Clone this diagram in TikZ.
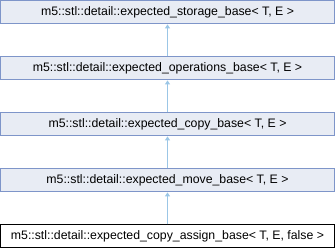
\documentclass[tikz,border=0pt]{standalone}
\usepackage{fontspec}
\setmainfont{Liberation Sans}
\usetikzlibrary{arrows.meta}
\definecolor{boxfill}{RGB}{232,236,244}
\definecolor{boxline}{RGB}{126,149,201}
\definecolor{edgeblue}{RGB}{155,198,230}
\tikzset{
  classbox/.style={draw=boxline, fill=boxfill, line width=0.9pt, minimum width=334pt,
    minimum height=23pt, inner sep=0pt, font=\fontsize{12.3}{14}\selectfont, anchor=north},
  currentbox/.style={classbox, draw=black, fill=white},
  inherit/.style={draw=edgeblue, line width=0.9pt, -{Triangle[length=4pt,width=5pt]}}
}
\begin{document}
\begin{tikzpicture}[x=1pt,y=-1pt]
\useasboundingbox (0,0) rectangle (335,248);
\node[classbox] (storage) at (167.5,0.5) {m5::stl::detail::expected\_storage\_base\textless{} T, E \textgreater{}};
\node[classbox] (operations) at (167.5,56.5) {m5::stl::detail::expected\_operations\_base\textless{} T, E \textgreater{}};
\node[classbox] (copy) at (167.5,112.5) {m5::stl::detail::expected\_copy\_base\textless{} T, E \textgreater{}};
\node[classbox] (move) at (167.5,168.5) {m5::stl::detail::expected\_move\_base\textless{} T, E \textgreater{}};
\node[currentbox] (assign) at (167.5,224.5) {m5::stl::detail::expected\_copy\_assign\_base\textless{} T, E, false \textgreater{}};
\draw[inherit] (operations.north) -- (storage.south);
\draw[inherit] (copy.north) -- (operations.south);
\draw[inherit] (move.north) -- (copy.south);
\draw[inherit] (assign.north) -- (move.south);
\end{tikzpicture}
\end{document}
